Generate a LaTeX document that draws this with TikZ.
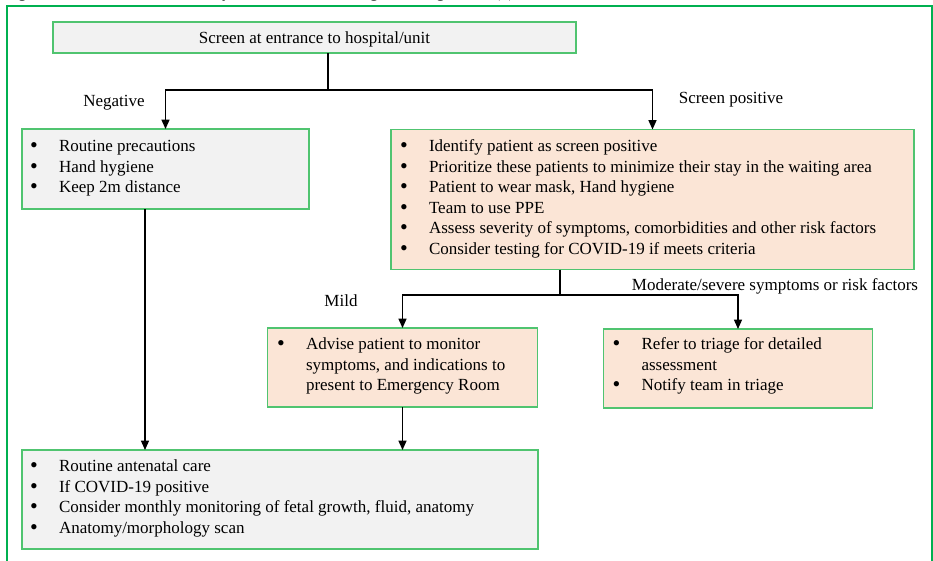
\documentclass[tikz,border=0pt]{standalone}
\usepackage{fontspec}
\usepackage{graphicx}
\setmainfont{Liberation Serif}
\usetikzlibrary{arrows.meta}
\definecolor{frameG}{HTML}{00B050}
\definecolor{boxG}{RGB}{80,196,112}
\definecolor{grayF}{HTML}{F2F2F2}
\definecolor{orangeF}{HTML}{FBE5D6}
\newcommand\bl{\hspace*{-0.6pt}\smash{\raisebox{-0.9pt}{\scalebox{1.3}{\textbullet}}}}
\newenvironment{blist}{\begin{tabular}[t]{@{}p{21pt}@{}l@{}}}{\end{tabular}}
\begin{document}
\begin{tikzpicture}[x=0.75pt,y=-0.75pt,
  sz/.style 2 args={minimum width=#1*0.75pt, minimum height=#2*0.75pt},
  box/.style={draw=boxG, line width=1pt, anchor=north west, inner sep=0pt, outer sep=0pt},
  graybox/.style={box, fill=grayF},
  orbox/.style={box, fill=orangeF},
  txt/.style={inner sep=0pt, outer sep=0pt, font=\fontsize{12.75}{15.4}\selectfont},
  list/.style={txt, anchor=base west},
  conn/.style={line width=0.9pt, black},
  arr/.style={conn, -{Triangle[length=7pt,width=6pt]}}
]
\useasboundingbox (0,0) rectangle (933,561);
% outer frame
\draw[frameG, line width=1.5pt] (6.5,6) rectangle (931.5,620);
% caption (cut off at top, as in the reference)
\node[txt, anchor=base west] (cap) at (4,-2.5) {Figure 12a shows the ambulatory antenatal care management algorithm (4).};

% boxes
\node[graybox, sz={523}{31}] (b1) at (53,22) {};
\node[txt, anchor=base] (t1) at (314.5,43) {Screen at entrance to hospital/unit};

\node[graybox, sz={287}{80}] (b2) at (22,129) {};
\node[list] (t2) at (31,151.5) {\begin{blist}
\bl & Routine precautions\\
\bl & Hand hygiene\\
\bl & Keep 2m distance
\end{blist}};

\node[orbox, sz={523}{140}] (b3) at (391,129.5) {};
\node[list] (t3) at (401,151.5) {\begin{blist}
\bl & Identify patient as screen positive\\
\bl & Prioritize these patients to minimize their stay in the waiting area\\
\bl & Patient to wear mask, Hand hygiene\\
\bl & Team to use PPE\\
\bl & Assess severity of symptoms, comorbidities and other risk factors\\
\bl & Consider testing for COVID-19 if meets criteria
\end{blist}};

\node[orbox, sz={270}{79}] (b4) at (267.5,328) {};
\node[list] (t4) at (278,349.5) {\begin{blist}
\bl & Advise patient to monitor\\
 & symptoms, and indications to\\
 & present to Emergency Room
\end{blist}};

\node[orbox, sz={269}{79}] (b5) at (603.5,329) {};
\node[list] (t5) at (613.5,349.5) {\begin{blist}
\bl & Refer to triage for detailed\\
 & assessment\\
\bl & Notify team in triage
\end{blist}};

\node[graybox, sz={516}{99}] (b6) at (22,450) {};
\node[list] (t6) at (31,471.5) {\begin{blist}
\bl & Routine antenatal care\\
\bl & If COVID-19 positive\\
\bl & Consider monthly monitoring of fetal growth, fluid, anatomy\\
\bl & Anatomy/morphology scan
\end{blist}};

% labels
\node[txt, anchor=base] (lneg) at (114,106) {Negative};
\node[txt, anchor=base] (lpos) at (731,103) {Screen positive};
\node[txt, anchor=base] (lmild) at (341,306) {Mild};
\node[txt, anchor=base] (lmod) at (775,290.5) {Moderate/severe symptoms or risk factors};

% connectors
\coordinate (j1) at (328,90);
\draw[conn] (j1 |- b1.south) -- (j1);
\draw[arr] (j1) -| (b2.north);
\draw[arr] (j1) -| (b3.north);

\coordinate (j2) at (560,295);
\draw[conn] (j2 |- b3.south) -- (j2);
\draw[arr] (j2) -| (b4.north);
\draw[arr] (j2) -| (b5.north);

\coordinate (c2) at (145,300);
\draw[arr] (c2 |- b2.south) -- (c2 |- b6.north);
\draw[arr] (b4.south) -- (b4.south |- b6.north);
\end{tikzpicture}
\end{document}
